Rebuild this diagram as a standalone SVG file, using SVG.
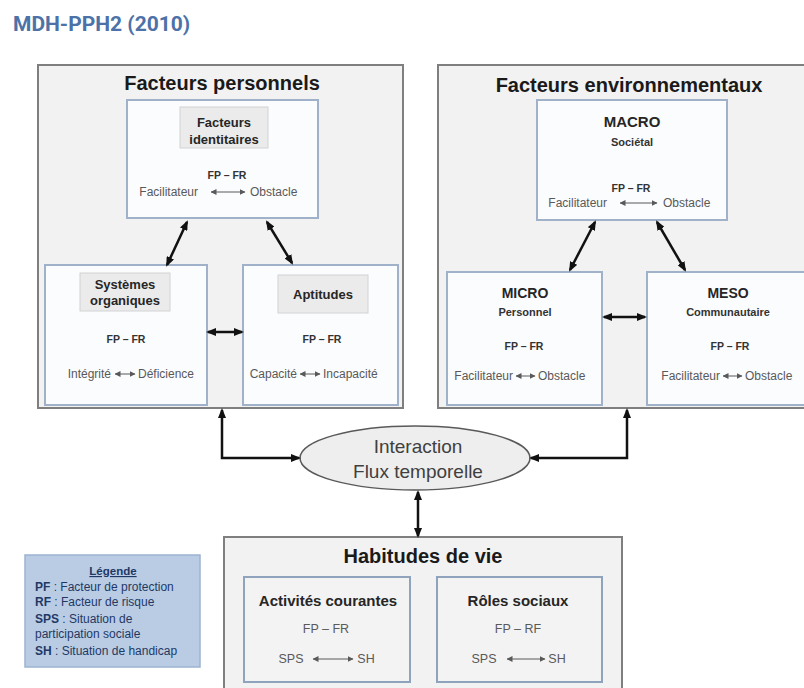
<svg xmlns="http://www.w3.org/2000/svg" width="804" height="688" viewBox="0 0 804 688">
<defs>
<style>
text{font-family:"Liberation Sans",Arial,sans-serif}
.outer{fill:#f2f2f2;stroke:#7f7f7f;stroke-width:2}
.inner{fill:#fbfcfe;stroke:#9fb2c9;stroke-width:2}
.inner2{fill:#f3f3f3;stroke:#8fa3bd;stroke-width:2}
.lbl{fill:#ebebeb;stroke:#d2d2d2;stroke-width:1}
.title{font-weight:bold;font-size:20px;fill:#1a1a1a;text-anchor:middle}
.head{font-weight:bold;font-size:13px;fill:#262626;text-anchor:middle}
.big{font-weight:bold;font-size:15px;fill:#262626;text-anchor:middle}
.sub{font-weight:bold;font-size:11px;fill:#333;text-anchor:middle}
.fp{font-weight:bold;font-size:10.5px;fill:#333;text-anchor:middle}
.fpr{font-size:12.5px;fill:#595959;text-anchor:middle}
.d{font-size:12px;fill:#595959}
.e{text-anchor:end}
.sa{stroke:#595959;stroke-width:1;fill:none;marker-start:url(#sm);marker-end:url(#sm)}
.conn{stroke:#111;stroke-width:2.5;fill:none;marker-start:url(#ah);marker-end:url(#ah)}
.leg{font-size:12px;fill:#1f3864}
</style>
<marker id="ah" viewBox="0 0 10 8" refX="8" refY="4" markerWidth="10" markerHeight="8" markerUnits="userSpaceOnUse" orient="auto-start-reverse"><path d="M0,0 L10,4 L0,8 z" fill="#111"/></marker>
<marker id="sm" viewBox="0 0 6 6" refX="5.5" refY="3" markerWidth="6" markerHeight="6" markerUnits="userSpaceOnUse" orient="auto-start-reverse"><path d="M0,0 L6,3 L0,6 z" fill="#595959"/></marker>
</defs>
<rect width="804" height="688" fill="#ffffff"/>
<text x="13" y="31" style="font-family:Roboto,'Liberation Sans',sans-serif;font-weight:bold;font-size:21px;fill:#4c72a8">MDH-PPH2 (2010)</text>

<g id="facteurs-personnels">
<rect class="outer" x="38" y="65" width="365" height="343"/>
<text class="title" x="222" y="90">Facteurs personnels</text>
</g>
<g id="facteurs-identitaires">
<rect class="inner" x="127" y="100" width="191" height="118"/>
<rect class="lbl" x="180" y="107" width="88" height="41"/>
<text class="head" x="224" y="127">Facteurs</text>
<text class="head" x="224" y="144">identitaires</text>
<text class="fp" x="227" y="179">FP – FR</text>
<text class="d e" x="198" y="196">Facilitateur</text>
<line class="sa" x1="211" y1="192" x2="245" y2="192"/>
<text class="d" x="250" y="196">Obstacle</text>
</g>
<g id="systemes-organiques">
<rect class="inner" x="45" y="265" width="162" height="140"/>
<rect class="lbl" x="80" y="273" width="90" height="38"/>
<text class="head" x="125" y="289">Systèmes</text>
<text class="head" x="125" y="305">organiques</text>
<text class="fp" x="126" y="343">FP – FR</text>
<text class="d e" x="111" y="378">Intégrité</text>
<line class="sa" x1="115" y1="374" x2="135" y2="374"/>
<text class="d" x="138" y="378">Déficience</text>
</g>
<g id="aptitudes">
<rect class="inner" x="243" y="265" width="155" height="140"/>
<rect class="lbl" x="278" y="275" width="90" height="38"/>
<text class="head" x="323" y="299">Aptitudes</text>
<text class="fp" x="322" y="343">FP – FR</text>
<text class="d e" x="297" y="378">Capacité</text>
<line class="sa" x1="300" y1="374" x2="320" y2="374"/>
<text class="d" x="323" y="378">Incapacité</text>
</g>

<g id="facteurs-environnementaux">
<rect class="outer" x="438" y="65" width="375" height="343"/>
<text class="title" x="629" y="92">Facteurs environnementaux</text>
</g>
<g id="macro">
<rect class="inner" x="537" y="100" width="190" height="120"/>
<text class="big" x="632" y="127">MACRO</text>
<text class="sub" x="632" y="146">Sociétal</text>
<text class="fp" x="631" y="192">FP – FR</text>
<text class="d e" x="607" y="207">Facilitateur</text>
<line class="sa" x1="620" y1="203" x2="657" y2="203"/>
<text class="d" x="663" y="207">Obstacle</text>
</g>
<g id="micro">
<rect class="inner" x="447" y="272" width="155" height="133"/>
<text class="big" x="525" y="298" style="font-size:14px">MICRO</text>
<text class="sub" x="525" y="316">Personnel</text>
<text class="fp" x="524" y="350">FP – FR</text>
<text class="d e" x="513" y="380">Facilitateur</text>
<line class="sa" x1="516" y1="376" x2="535" y2="376"/>
<text class="d" x="538" y="380">Obstacle</text>
</g>
<g id="meso">
<rect class="inner" x="647" y="272" width="170" height="133"/>
<text class="big" x="728" y="298" style="font-size:14px">MESO</text>
<text class="sub" x="728" y="316">Communautaire</text>
<text class="fp" x="730" y="350">FP – FR</text>
<text class="d e" x="720" y="380">Facilitateur</text>
<line class="sa" x1="723" y1="376" x2="742" y2="376"/>
<text class="d" x="745" y="380">Obstacle</text>
</g>

<g id="interaction">
<ellipse cx="415" cy="458" rx="115" ry="32" fill="#eeeeee" stroke="#595959" stroke-width="1.5"/>
<text x="418" y="453" style="font-size:19px;fill:#404040;text-anchor:middle">Interaction</text>
<text x="418" y="478" style="font-size:19px;fill:#404040;text-anchor:middle">Flux temporelle</text>
</g>

<g id="habitudes-de-vie">
<rect class="outer" x="224" y="537" width="398" height="160"/>
<text class="title" x="423" y="563">Habitudes de vie</text>
</g>
<g id="activites-courantes">
<rect class="inner2" x="244" y="577" width="166" height="105"/>
<text class="big" x="328" y="606">Activités courantes</text>
<text class="fpr" x="326" y="633">FP – FR</text>
<text class="fpr" x="291" y="663">SPS</text>
<line class="sa" x1="313" y1="659" x2="353" y2="659"/>
<text class="fpr" x="366" y="663">SH</text>
</g>
<g id="roles-sociaux">
<rect class="inner2" x="437" y="577" width="165" height="105"/>
<text class="big" x="518" y="606">Rôles sociaux</text>
<text class="fpr" x="518" y="633">FP – RF</text>
<text class="fpr" x="484" y="663">SPS</text>
<line class="sa" x1="507" y1="659" x2="545" y2="659"/>
<text class="fpr" x="557" y="663">SH</text>
</g>

<g id="legende">
<rect x="25" y="555" width="175" height="112" fill="#b9cce4" stroke="#9db3cf" stroke-width="1.5"/>
<text class="leg" x="113" y="575" style="font-weight:bold;text-anchor:middle;text-decoration:underline;font-size:11.5px">Légende</text>
<text class="leg" x="35" y="591"><tspan font-weight="bold">PF</tspan> : Facteur de protection</text>
<text class="leg" x="35" y="606"><tspan font-weight="bold">RF</tspan> : Facteur de risque</text>
<text class="leg" x="35" y="623"><tspan font-weight="bold">SPS</tspan> : Situation de</text>
<text class="leg" x="35" y="638">participation sociale</text>
<text class="leg" x="35" y="655"><tspan font-weight="bold">SH</tspan> : Situation de handicap</text>
</g>

<g id="connectors">
<path class="conn" d="M187,222 L167,265"/>
<path class="conn" d="M267,222 L292,263"/>
<path class="conn" d="M208,332 L242,332"/>
<path class="conn" d="M595,222 L570,270"/>
<path class="conn" d="M657,222 L685,270"/>
<path class="conn" d="M604,317 L645,317"/>
<path class="conn" d="M222,410 L222,458 L299,458"/>
<path class="conn" d="M627,410 L627,458 L531,458"/>
<path class="conn" d="M418,492 L418,536"/>
</g>
</svg>
